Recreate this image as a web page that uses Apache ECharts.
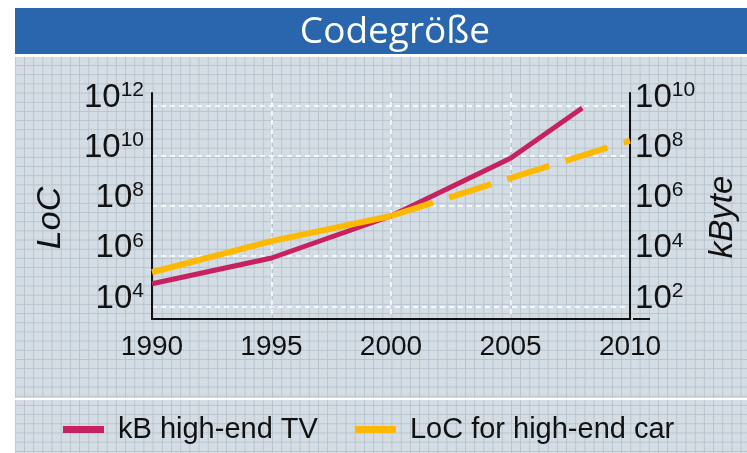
<!DOCTYPE html>
<html>
<head>
<meta charset="utf-8">
<title>Codegröße</title>
<script src="https://cdn.jsdelivr.net/npm/echarts@6/dist/echarts.min.js"></script>
<style>
  html, body { margin: 0; padding: 0; background: #fff; }
  #wrap { position: relative; width: 747px; height: 453px; overflow: hidden; background: #fff; }
  #band { position: absolute; left: 15px; top: 8px; width: 732px; height: 46px; background: #2966ad; }
  #paper {
    position: absolute; left: 15px; top: 57px; width: 732px; height: 396px;
    background-color: #d4dce4;
    background-image:
      linear-gradient(to right, #b6c4d0 1px, transparent 1px),
      linear-gradient(to bottom, #b6c4d0 1px, transparent 1px);
    background-size: 9.2px 9.2px;
    background-position: 9px 8px;
  }
  #rule { position: absolute; left: 15px; top: 398px; width: 732px; height: 2px; background: #fff; }
  #chart { position: absolute; left: 0; top: 0; width: 747px; height: 453px; }
</style>
</head>
<body>
<div id="wrap">
  <div id="band"></div>
  <div id="paper"></div>
  <div id="rule"></div>
  <div id="chart"></div>
</div>
<script>
// Code size of a high-end TV (kByte) and lines of code in a high-end car
const tvYears = [1990, 1995, 2000, 2005, 2008];
const tvKByte = [800, 8500, 400000, 8e7, 8e9];

const carYears = [1990, 1995, 2000];
const carLoc = [2.3e5, 4e6, 4e7];

const carForecastYears = [2000, 2005, 2010];
const carForecastLoc = [4e7, 1.3e9, 4e10];

// decade exponents shown on each axis
const locExponents = [4, 6, 8, 10, 12];
const kbyteExponents = [2, 4, 6, 8, 10];

const tvName = 'kB high-end TV';
const carName = 'LoC for high-end car';

const toLogPairs = (xs, vs) => xs.map((x, i) => [x, Math.log10(vs[i])]);

const labelFont = 'Liberation Sans, Arial, sans-serif';
const powerLabel = v => '{b|10}{s|' + v + '}';
const powerRich = {
  b: { fontSize: 33, fontFamily: labelFont, color: '#111', lineHeight: 36 },
  s: { fontSize: 21, fontFamily: labelFont, color: '#111', lineHeight: 27, verticalAlign: 'top' }
};

const chart = echarts.init(document.getElementById('chart'), null, { renderer: 'canvas' });

chart.setOption({
  backgroundColor: 'transparent',
  animation: false,
  graphic: [
    {
      type: 'text',
      style: {
        x: 395, y: 32, text: 'Codegröße', fill: '#fff',
        font: '37px "Open Sans", sans-serif', align: 'center', verticalAlign: 'middle'
      }
    },
    {
      type: 'line',
      shape: { x1: 633, y1: 319, x2: 650, y2: 319 },
      style: { stroke: '#111', lineWidth: 2 }
    }
  ],
  grid: { left: 152, right: 113, top: 93, bottom: 134 },
  legend: {
    left: 58, top: 410,
    icon: 'rect', itemWidth: 41, itemHeight: 7, itemGap: 37,
    data: [tvName, carName],
    textStyle: { fontSize: 29, fontFamily: labelFont, color: '#111', padding: [0, 0, 0, 9] }
  },
  xAxis: {
    type: 'value', min: 1990, max: 2010, interval: 5,
    axisLine: { show: true, onZero: false, lineStyle: { color: '#111', width: 2 } },
    axisTick: { show: false },
    axisLabel: { fontSize: 28, fontFamily: labelFont, color: '#111', margin: 14, formatter: v => String(v) },
    splitLine: { show: true, lineStyle: { color: '#fff', width: 1.5, type: [5, 4] } }
  },
  yAxis: [
    {
      type: 'value', min: 3.5, max: 12.5, position: 'left',
      name: 'LoC', nameLocation: 'middle', nameGap: 84,
      nameTextStyle: { fontSize: 34, fontStyle: 'italic', fontFamily: labelFont, color: '#111', padding: [0, 24, 0, 0] },
      axisLine: { show: true, onZero: false, lineStyle: { color: '#111', width: 2 } },
      axisTick: { show: false, customValues: locExponents },
      axisLabel: {
        customValues: locExponents, margin: 8, padding: [0, 0, 16, 0],
        formatter: powerLabel, rich: powerRich
      },
      splitLine: { show: true, lineStyle: { color: '#fff', width: 1.5, type: [5, 4] } }
    },
    {
      type: 'value', min: 1.5, max: 10.5, position: 'right',
      name: 'kByte', nameLocation: 'middle', nameGap: 70,
      nameTextStyle: { fontSize: 33, fontStyle: 'italic', fontFamily: labelFont, color: '#111', padding: [0, 22, 0, 0] },
      axisLine: { show: true, onZero: false, lineStyle: { color: '#111', width: 2 } },
      axisTick: { show: false, customValues: kbyteExponents },
      axisLabel: {
        customValues: kbyteExponents, margin: 5, padding: [0, 0, 16, 0],
        formatter: powerLabel, rich: powerRich
      },
      splitLine: { show: false }
    }
  ],
  series: [
    {
      name: tvName, type: 'line', yAxisIndex: 1,
      data: toLogPairs(tvYears, tvKByte),
      symbol: 'none', color: '#c8215f',
      lineStyle: { width: 5, color: '#c8215f' }
    },
    {
      name: carName, type: 'line', yAxisIndex: 0,
      data: toLogPairs(carYears, carLoc),
      symbol: 'none', color: '#fdb900',
      lineStyle: { width: 6, color: '#fdb900' }
    },
    {
      name: carName, type: 'line', yAxisIndex: 0,
      data: toLogPairs(carForecastYears, carForecastLoc),
      symbol: 'none', color: '#fdb900',
      lineStyle: { width: 6, color: '#fdb900', type: [44, 17], cap: 'butt' }
    }
  ]
});
</script>
</body>
</html>
